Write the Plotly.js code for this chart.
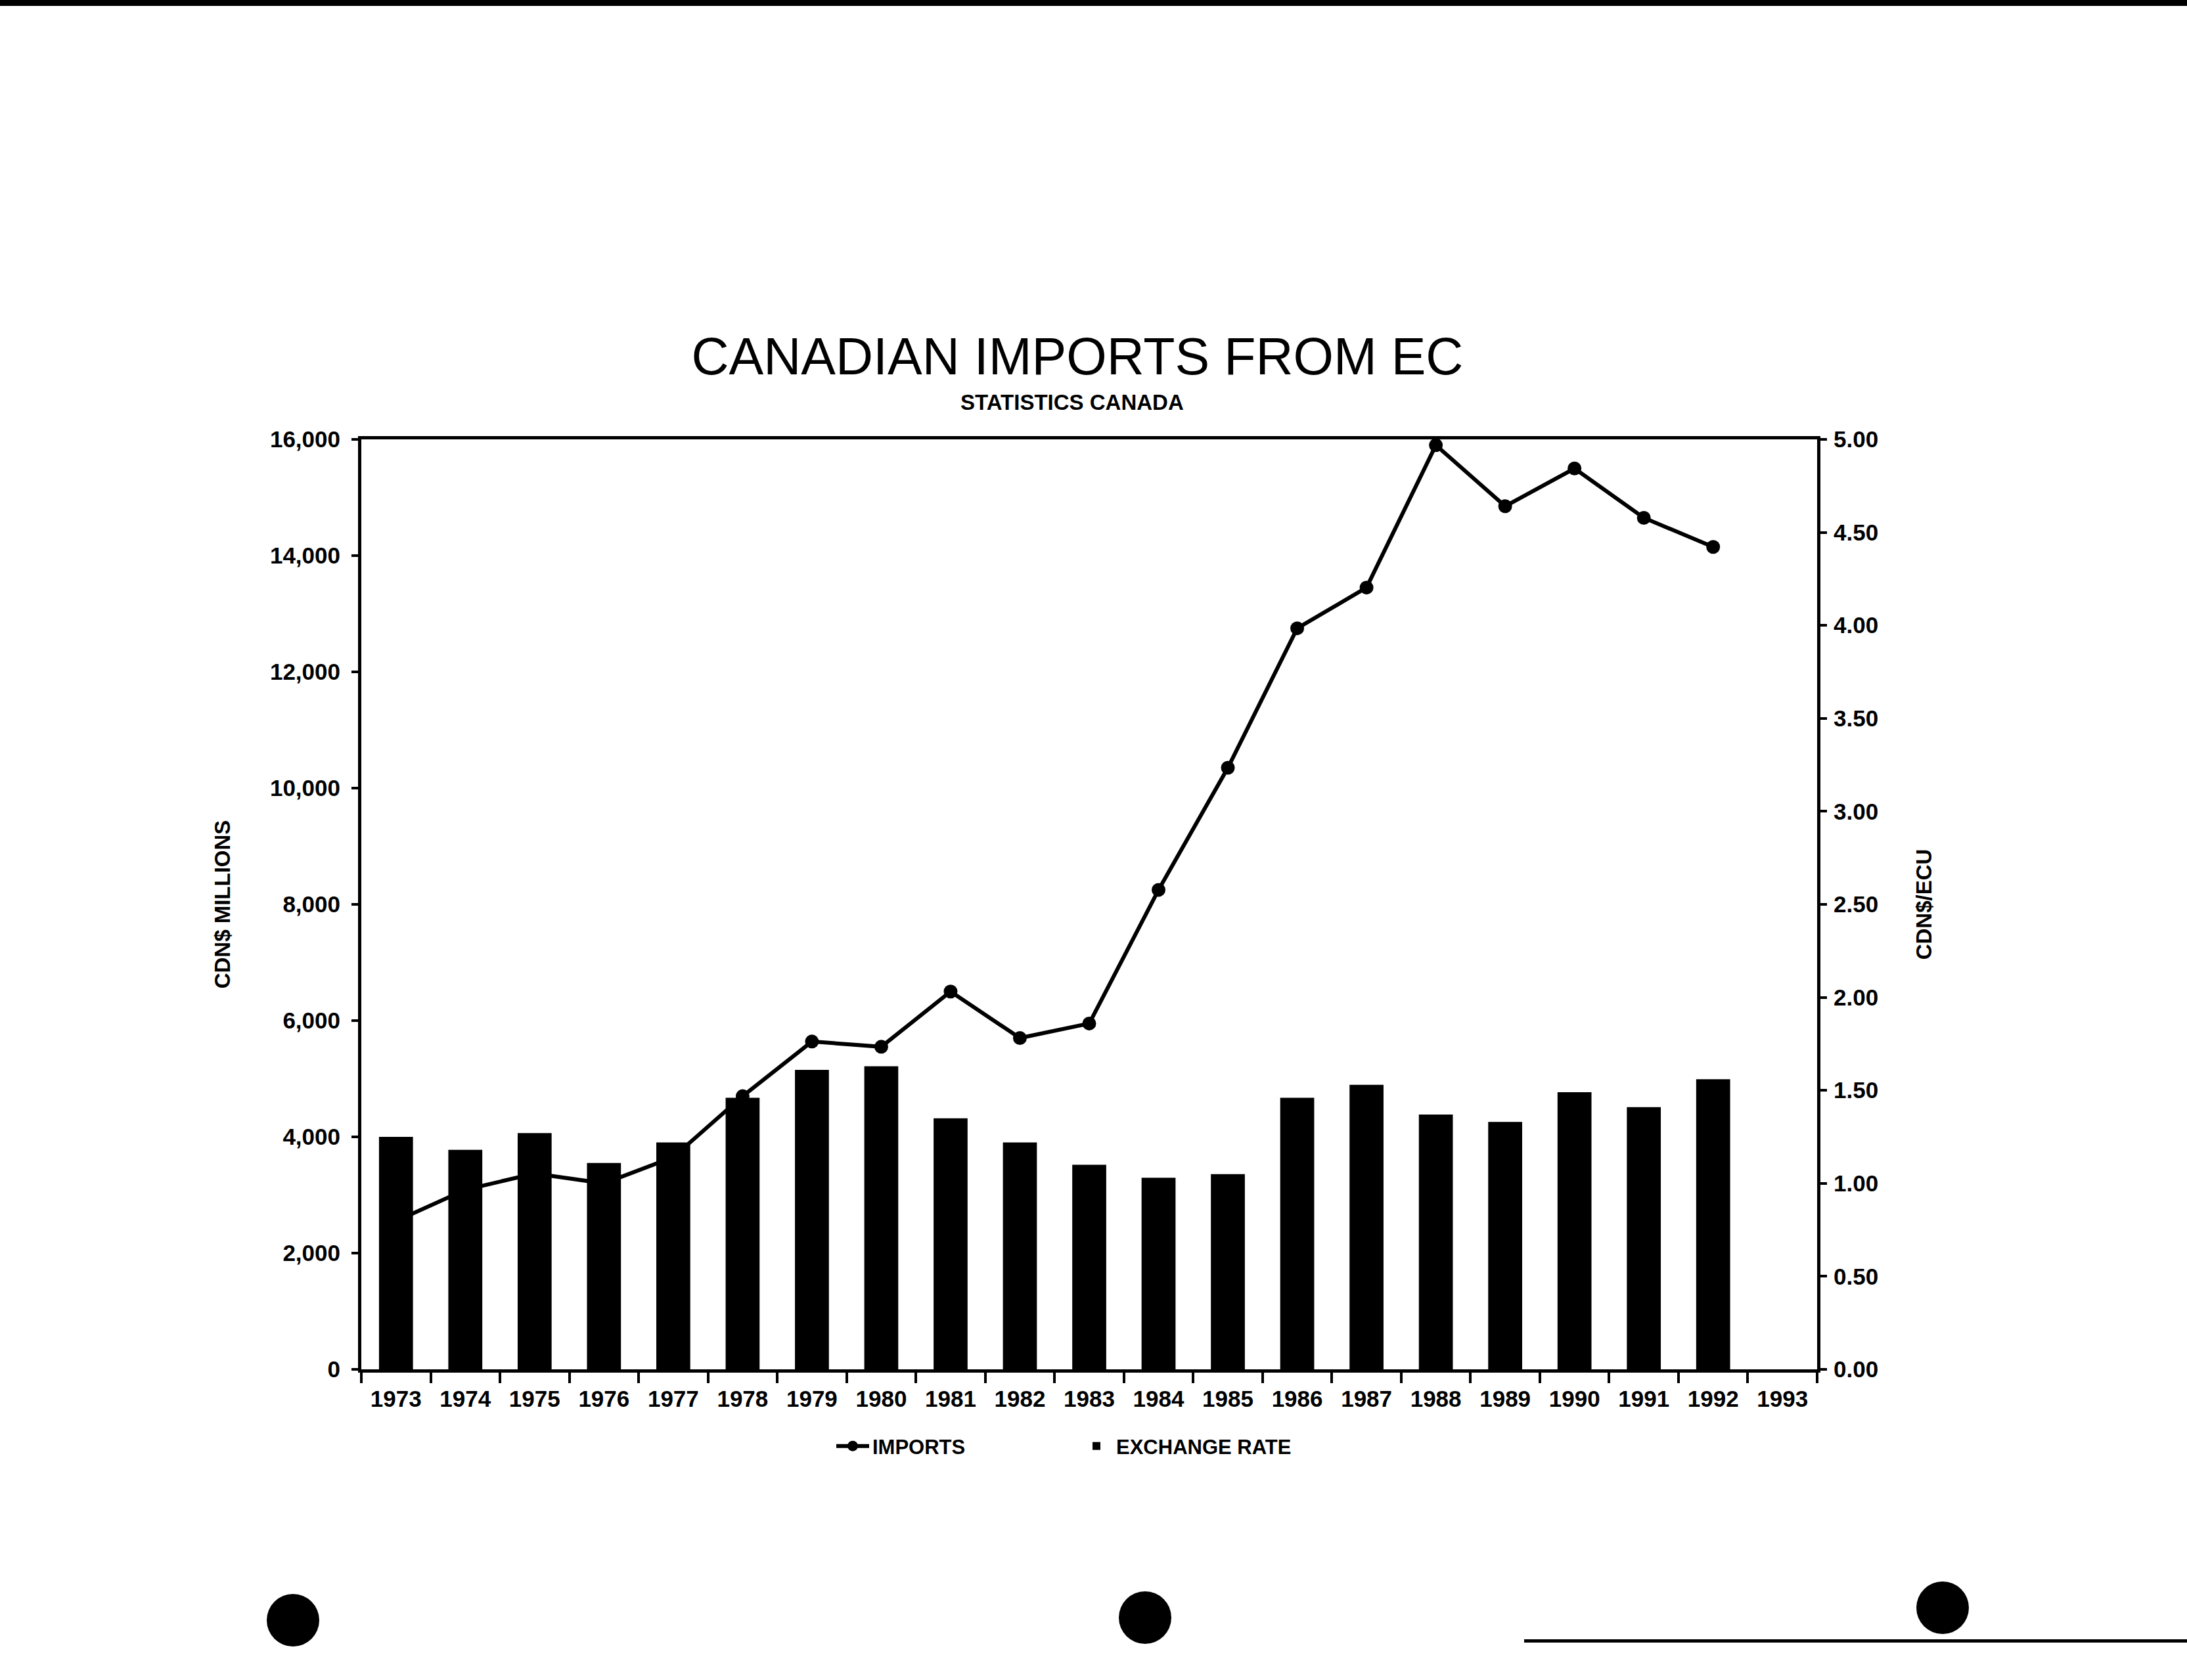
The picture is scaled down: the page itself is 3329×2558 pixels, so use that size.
<!DOCTYPE html>
<html>
<head>
<meta charset="utf-8">
<script src="https://cdn.plot.ly/plotly-3.0.1.min.js"></script>
<style>html,body{margin:0;padding:0;background:#fff;}</style>
</head>
<body>
<div id="chart" style="width:3329px;height:2558px;"></div>
<script>
// ---- data ----
const years = ['1973','1974','1975','1976','1977','1978','1979','1980','1981','1982','1983',
               '1984','1985','1986','1987','1988','1989','1990','1991','1992','1993'];
const imports = [2550, 3090, 3370, 3200, 3650, 4700, 5640, 5550, 6500, 5700, 5950,
                 8250, 10350, 12750, 13450, 15900, 14850, 15500, 14650, 14150];
const exchangeRate = [1.25, 1.18, 1.27, 1.11, 1.22, 1.46, 1.61, 1.63, 1.35, 1.22, 1.10,
                      1.03, 1.05, 1.46, 1.53, 1.37, 1.33, 1.49, 1.41, 1.56];
const titleText = 'CANADIAN IMPORTS FROM EC';
const subtitleText = 'STATISTICS CANADA';
const leftTitle = 'CDN$ MILLIONS';
const rightTitle = 'CDN$/ECU';
const seriesNames = ['IMPORTS', 'EXCHANGE RATE'];

// ---- geometry / style ----
const W = 3329, H = 2558;
const L = 550, R = 2766, T = 669, B = 2085;
const px = x => (x - L) / (R - L);
const py = y => (B - y) / (B - T);
const FONT = 'Liberation Sans, Arial, Helvetica, sans-serif';
const boldFont = (s) => ({family: FONT, size: s, color: '#000', weight: 'bold'});

const traces = [
  {
    type: 'scatter', mode: 'lines+markers', name: seriesNames[0],
    x: years.slice(0, imports.length), y: imports,
    xaxis: 'x', yaxis: 'y',
    line: {color: '#000', width: 6},
    marker: {color: '#000', size: 21},
    hoverinfo: 'skip'
  },
  {
    type: 'bar', name: seriesNames[1],
    x: years.slice(0, exchangeRate.length), y: exchangeRate,
    xaxis: 'x', yaxis: 'y2',
    marker: {color: '#000', line: {width: 0}},
    hoverinfo: 'skip'
  }
];

const boundaries = years.slice(1).map((_, i) => i + 0.5);

const commonAx = {showgrid: false, zeroline: false, fixedrange: true};

const layout = {
  width: W, height: H,
  margin: {l: L, r: W - R, t: T, b: H - B, pad: 0},
  paper_bgcolor: '#fff', plot_bgcolor: '#fff',
  title: {
    text: titleText,
    font: {family: FONT, size: 79, color: '#000'},
    xref: 'container', yref: 'container',
    x: 1640 / W, xanchor: 'center',
    y: 1 - 542 / H, yanchor: 'middle'
  },
  bargap: 0.51,
  showlegend: true,
  legend: {
    orientation: 'h',
    x: px(1268), xanchor: 'left',
    y: py(2202), yanchor: 'middle',
    font: boldFont(31),
    itemwidth: 50,
    entrywidth: 306,
    bgcolor: 'rgba(0,0,0,0)'
  },
  xaxis: Object.assign({}, commonAx, {
    type: 'category', categoryorder: 'array', categoryarray: years,
    range: [-0.5, years.length - 0.5],
    tickson: 'boundaries', ticks: 'outside', ticklen: 16, tickwidth: 4, tickcolor: '#000',
    showline: true, linewidth: 5, linecolor: '#000', mirror: true,
    tickfont: boldFont(35), ticklabelstandoff: 10
  }),
  xaxis2: Object.assign({}, commonAx, {
    overlaying: 'x', anchor: 'y', type: 'linear',
    range: [-0.5, years.length - 0.5],
    tickmode: 'array', tickvals: boundaries,
    ticks: 'inside', ticklen: 16, tickwidth: 4, tickcolor: '#000',
    showticklabels: false, showline: false
  }),
  yaxis: Object.assign({}, commonAx, {
    range: [0, 16000], tick0: 0, dtick: 2000, tickformat: ',d',
    ticks: 'outside', ticklen: 10, tickwidth: 4, tickcolor: '#000',
    showline: true, linewidth: 5, linecolor: '#000',
    tickfont: boldFont(35), ticklabelstandoff: 10,
    title: {text: leftTitle, font: boldFont(33), standoff: 52}
  }),
  yaxis2: Object.assign({}, commonAx, {
    overlaying: 'y', side: 'right', anchor: 'x',
    range: [0, 5], tick0: 0, dtick: 0.5, tickformat: '.2f',
    ticks: 'outside', ticklen: 10, tickwidth: 4, tickcolor: '#000',
    showline: true, linewidth: 5, linecolor: '#000',
    tickfont: boldFont(35), ticklabelstandoff: 3,
    title: {text: rightTitle, font: boldFont(33), standoff: 60}
  }),
  yaxis3: Object.assign({}, commonAx, {
    overlaying: 'y', side: 'left', anchor: 'x',
    range: [0, 16000], tick0: 0, dtick: 2000,
    ticks: 'inside', ticklen: 10, tickwidth: 4, tickcolor: '#000',
    showticklabels: false, showline: false
  }),
  yaxis4: Object.assign({}, commonAx, {
    overlaying: 'y', side: 'right', anchor: 'x',
    range: [0, 5], tick0: 0, dtick: 0.5,
    ticks: 'inside', ticklen: 10, tickwidth: 4, tickcolor: '#000',
    showticklabels: false, showline: false
  }),
  annotations: [{
    text: subtitleText, showarrow: false,
    xref: 'paper', yref: 'paper',
    x: px(1632), y: py(612), xanchor: 'center', yanchor: 'middle',
    font: boldFont(33)
  }],
  shapes: [
    // scan artefacts: top edge band, bottom right edge, punch holes
    {type: 'rect', xref: 'paper', yref: 'paper', x0: px(0), x1: px(W), y0: py(9), y1: py(0),
     fillcolor: '#000', line: {width: 0}},
    {type: 'rect', xref: 'paper', yref: 'paper', x0: px(2320), x1: px(W), y0: py(2501), y1: py(2496),
     fillcolor: '#000', line: {width: 0}},
    ...[[446, 2467], [1743, 2463], [2957, 2448]].map(([cx, cy]) => ({
      type: 'circle', xref: 'paper', yref: 'paper',
      x0: px(cx - 40), x1: px(cx + 40), y0: py(cy + 40), y1: py(cy - 40),
      fillcolor: '#000', line: {width: 0}
    }))
  ]
};

Plotly.newPlot('chart', traces, layout, {staticPlot: true, displayModeBar: false});
</script>
</body>
</html>
